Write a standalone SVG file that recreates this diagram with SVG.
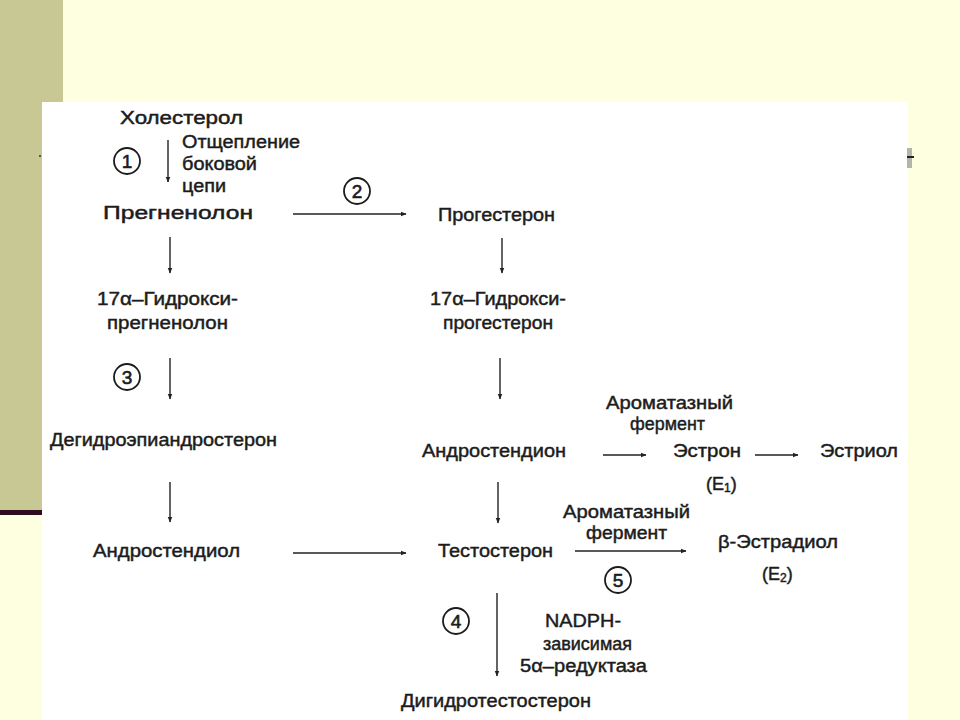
<svg xmlns="http://www.w3.org/2000/svg" width="960" height="720" viewBox="0 0 960 720">
<defs>
<style>
text{font-family:"Liberation Sans",Arial,sans-serif;font-size:18px;fill:#1c1c1c;stroke:#1c1c1c;stroke-width:0.45px}
.n{font-size:19px;text-anchor:middle;stroke-width:0.6px}
.c{fill:none;stroke:#1c1c1c;stroke-width:1.8}
.e line{stroke:#222;stroke-width:1.4;marker-end:url(#ah)}
</style>
<marker id="ah" viewBox="0 0 10 10" refX="9" refY="5" markerWidth="6" markerHeight="6" markerUnits="userSpaceOnUse" orient="auto"><path d="M0,1 L10,5 L0,9 Z" fill="#222"/></marker>
</defs>
<rect x="0" y="0" width="960" height="720" fill="#fefee0"/>
<rect x="0" y="0" width="63" height="512" fill="#c8c894"/>
<rect x="0" y="510" width="42" height="5" fill="#2e0c1e"/>
<rect x="42" y="102" width="866" height="618" fill="#ffffff"/>
<rect x="907" y="148" width="5" height="20" fill="#b4b4aa"/>
<rect x="907" y="156" width="7" height="2" fill="#222"/>
<circle cx="40" cy="156" r="1" fill="#333"/>

<g id="cholesterol"><text x="120" y="124" textLength="123" lengthAdjust="spacingAndGlyphs">Холестерол</text></g>
<g id="step1"><circle class="c" cx="127" cy="161" r="13"/><text class="n" x="127" y="168">1</text></g>
<g id="label1"><text x="182" y="148" textLength="118" lengthAdjust="spacingAndGlyphs">Отщепление</text><text x="182" y="170" textLength="75" lengthAdjust="spacingAndGlyphs">боковой</text><text x="182" y="192" textLength="44" lengthAdjust="spacingAndGlyphs">цепи</text></g>
<g id="pregnenolone"><text x="103" y="219" textLength="150" lengthAdjust="spacingAndGlyphs">Прегненолон</text></g>
<g id="step2"><circle class="c" cx="357" cy="191" r="13"/><text class="n" x="357" y="198">2</text></g>
<g id="progesterone"><text x="438" y="221" textLength="117" lengthAdjust="spacingAndGlyphs">Прогестерон</text></g>
<g id="hpreg"><text x="97" y="305" textLength="141" lengthAdjust="spacingAndGlyphs">17α–Гидрокси-</text><text x="107" y="329" textLength="121" lengthAdjust="spacingAndGlyphs">прегненолон</text></g>
<g id="hprog"><text x="430" y="305" textLength="136" lengthAdjust="spacingAndGlyphs">17α–Гидрокси-</text><text x="443" y="329" textLength="110" lengthAdjust="spacingAndGlyphs">прогестерон</text></g>
<g id="step3"><circle class="c" cx="127" cy="377" r="13"/><text class="n" x="127" y="384">3</text></g>
<g id="dhea"><text x="50" y="446" textLength="227" lengthAdjust="spacingAndGlyphs">Дегидроэпиандростерон</text></g>
<g id="androstenedione"><text x="422" y="457" textLength="144" lengthAdjust="spacingAndGlyphs">Андростендион</text></g>
<g id="arom1"><text x="606" y="409" textLength="127" lengthAdjust="spacingAndGlyphs">Ароматазный</text><text x="630" y="430" textLength="75" lengthAdjust="spacingAndGlyphs">фермент</text></g>
<g id="estrone"><text x="673" y="457" textLength="68" lengthAdjust="spacingAndGlyphs">Эстрон</text><text x="706" y="490">(E<tspan font-size="12" dy="2">1</tspan><tspan dy="-2">)</tspan></text></g>
<g id="estriol"><text x="820" y="457" textLength="78" lengthAdjust="spacingAndGlyphs">Эстриол</text></g>
<g id="androstenediol"><text x="93" y="557" textLength="147" lengthAdjust="spacingAndGlyphs">Андростендиол</text></g>
<g id="testosterone"><text x="438" y="557" textLength="115" lengthAdjust="spacingAndGlyphs">Тестостерон</text></g>
<g id="arom2"><text x="563" y="518" textLength="127" lengthAdjust="spacingAndGlyphs">Ароматазный</text><text x="586" y="539" textLength="81" lengthAdjust="spacingAndGlyphs">фермент</text></g>
<g id="step5"><circle class="c" cx="618" cy="580" r="13"/><text class="n" x="618" y="587">5</text></g>
<g id="estradiol"><text x="718" y="548" textLength="120" lengthAdjust="spacingAndGlyphs">β-Эстрадиол</text><text x="762" y="580">(E<tspan font-size="12" dy="2">2</tspan><tspan dy="-2">)</tspan></text></g>
<g id="step4"><circle class="c" cx="456" cy="621" r="13"/><text class="n" x="456" y="628">4</text></g>
<g id="reductase"><text x="545" y="627" textLength="76" lengthAdjust="spacingAndGlyphs">NADPH-</text><text x="543" y="650" textLength="89" lengthAdjust="spacingAndGlyphs">зависимая</text><text x="520" y="672" textLength="127" lengthAdjust="spacingAndGlyphs">5α–редуктаза</text></g>
<g id="dht"><text x="401" y="707" textLength="190" lengthAdjust="spacingAndGlyphs">Дигидротестостерон</text></g>

<g id="connectors" class="e">
<line x1="168" y1="140" x2="168" y2="182"/>
<line x1="293" y1="214" x2="406" y2="214"/>
<line x1="170" y1="237" x2="170" y2="273"/>
<line x1="502" y1="238" x2="502" y2="273"/>
<line x1="170" y1="358" x2="170" y2="399"/>
<line x1="500" y1="358" x2="500" y2="399"/>
<line x1="603" y1="455" x2="646" y2="455"/>
<line x1="755" y1="455" x2="798" y2="455"/>
<line x1="170" y1="482" x2="170" y2="522"/>
<line x1="498" y1="482" x2="498" y2="523"/>
<line x1="293" y1="553" x2="406" y2="553"/>
<line x1="575" y1="551" x2="686" y2="551"/>
<line x1="497" y1="593" x2="497" y2="676"/>
</g>
</svg>
